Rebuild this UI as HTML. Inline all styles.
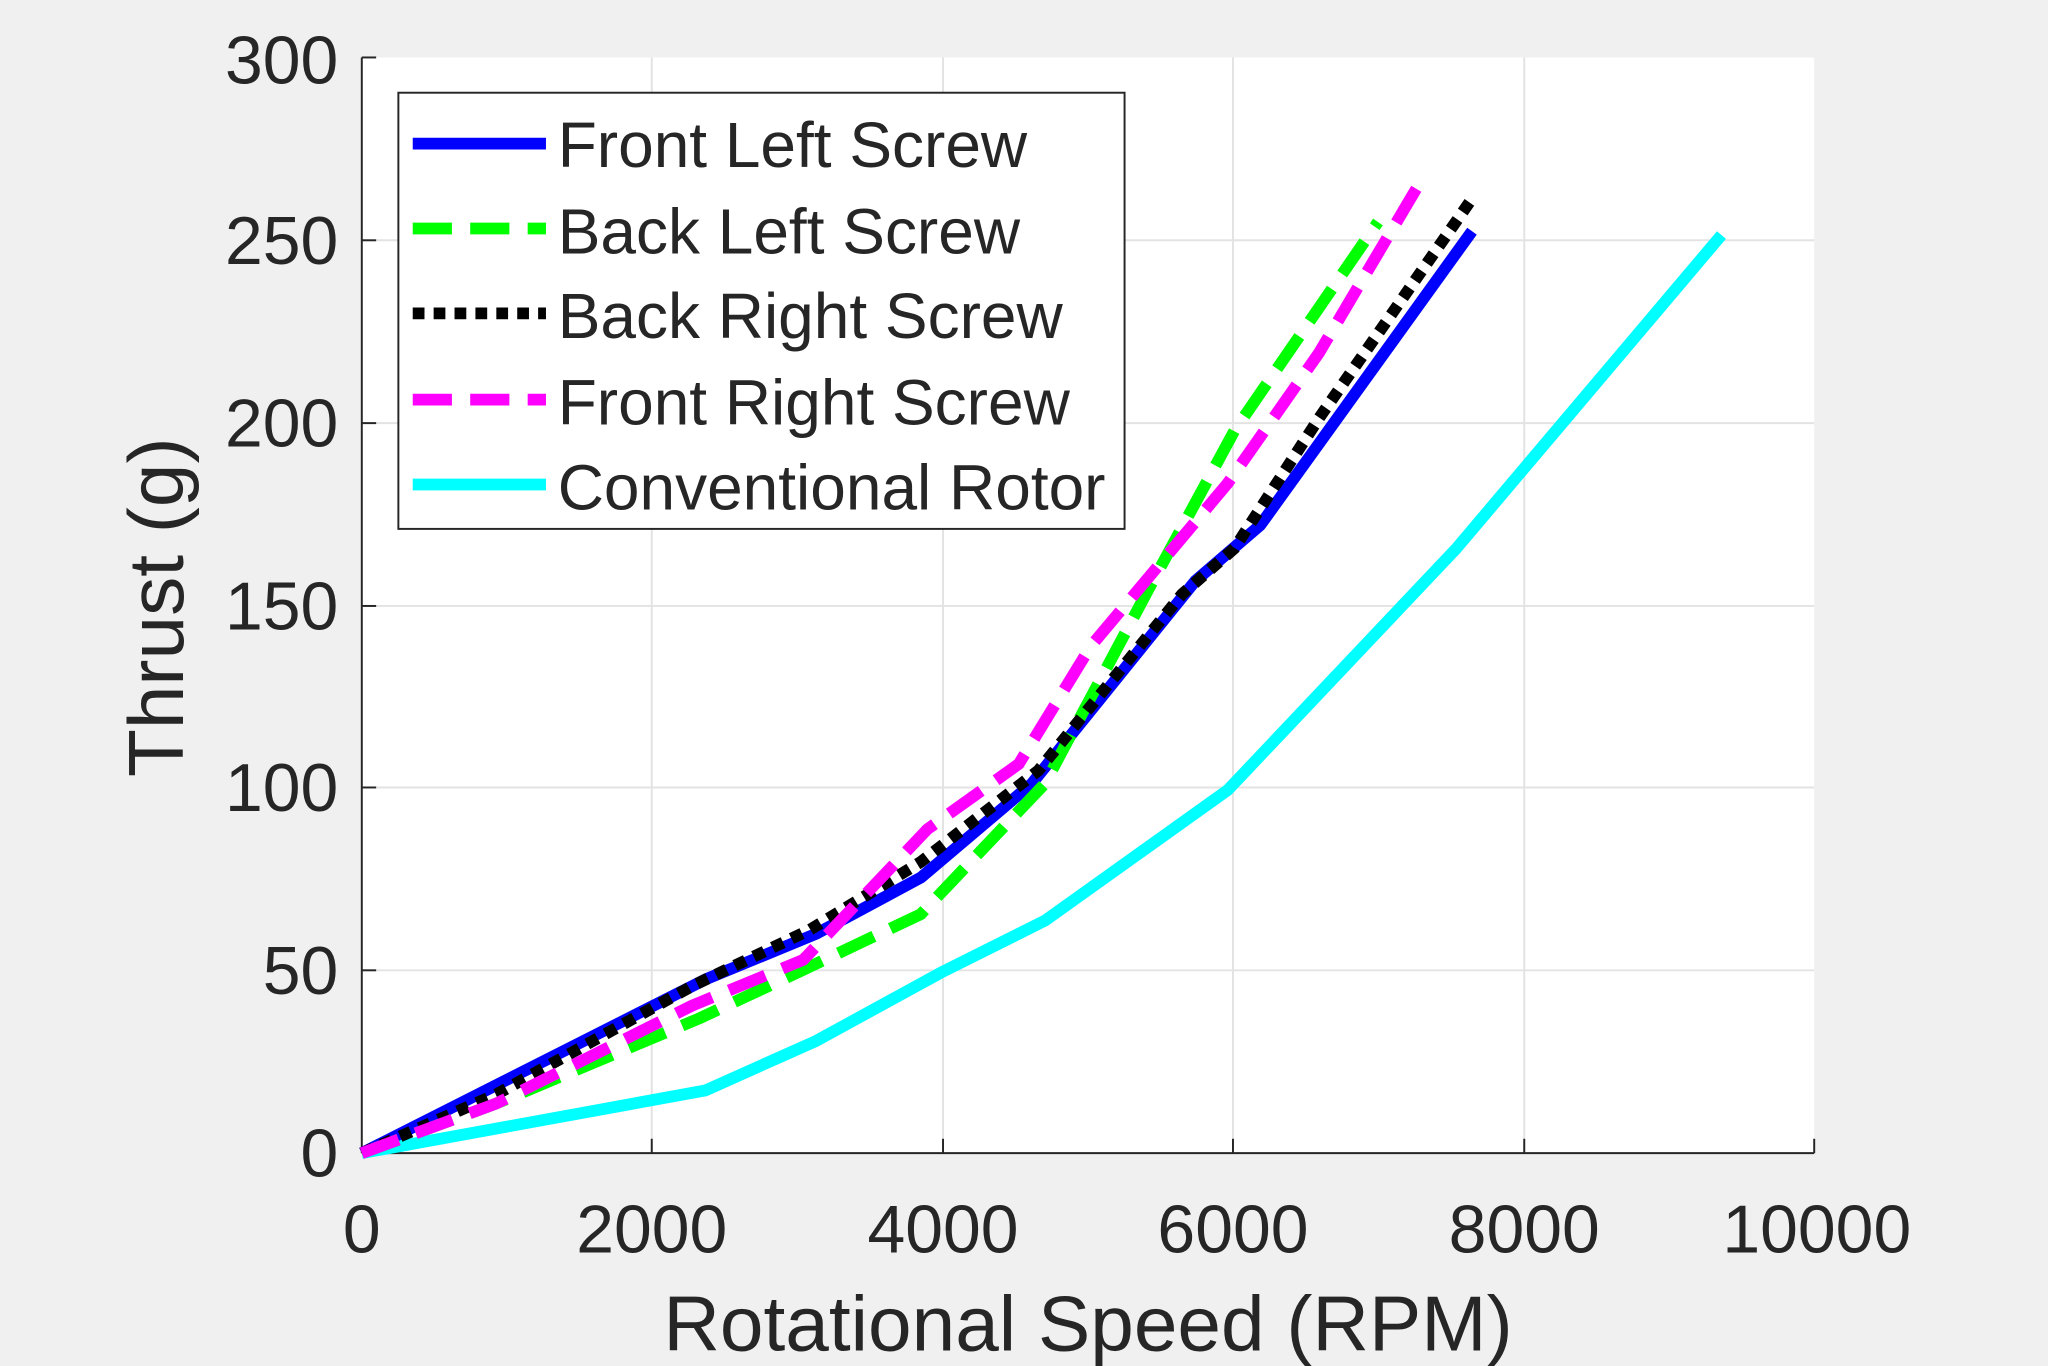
<!DOCTYPE html>
<html><head><style>
html,body{margin:0;padding:0;background:#f0f0f0;}
svg{display:block;}
text{font-family:"Liberation Sans",sans-serif;fill:#262626;}
</style></head><body>
<svg width="2048" height="1366" viewBox="0 0 1568 1046" preserveAspectRatio="none">
<rect width="1568" height="1046" fill="#f0f0f0"/>
<rect x="277" y="44" width="1112" height="839" fill="#fff"/>
<g stroke="#e3e3e3" stroke-width="1.5">
<line x1="499" y1="44" x2="499" y2="883"/><line x1="722" y1="44" x2="722" y2="883"/>
<line x1="944" y1="44" x2="944" y2="883"/><line x1="1167" y1="44" x2="1167" y2="883"/>
<line x1="277" y1="743" x2="1389" y2="743"/><line x1="277" y1="603" x2="1389" y2="603"/>
<line x1="277" y1="464" x2="1389" y2="464"/><line x1="277" y1="324" x2="1389" y2="324"/>
<line x1="277" y1="184" x2="1389" y2="184"/>
</g>
<g stroke="#262626" stroke-width="1.5" fill="none">
<line x1="277" y1="44" x2="277" y2="883"/><line x1="277" y1="883" x2="1389" y2="883"/>
<line x1="499" y1="883" x2="499" y2="872"/><line x1="722" y1="883" x2="722" y2="872"/>
<line x1="944" y1="883" x2="944" y2="872"/><line x1="1167" y1="883" x2="1167" y2="872"/>
<line x1="1389" y1="883" x2="1389" y2="872"/>
<line x1="277" y1="743" x2="288" y2="743"/><line x1="277" y1="603" x2="288" y2="603"/>
<line x1="277" y1="464" x2="288" y2="464"/><line x1="277" y1="324" x2="288" y2="324"/>
<line x1="277" y1="184" x2="288" y2="184"/><line x1="277" y1="44" x2="288" y2="44"/>
</g>
<g font-size="52" text-anchor="end">
<text x="259" y="901">0</text><text x="259" y="761">50</text><text x="259" y="621">100</text>
<text x="259" y="482">150</text><text x="259" y="342">200</text><text x="259" y="202">250</text>
<text x="259" y="64">300</text>
</g>
<g font-size="52" text-anchor="middle">
<text x="277" y="959">0</text><text x="499" y="959">2000</text><text x="722" y="959">4000</text>
<text x="944" y="959">6000</text><text x="1167" y="959">8000</text><text x="1391" y="959">10000</text>
<text x="833" y="1034" font-size="60">Rotational Speed (RPM)</text>
<text transform="translate(140,465) rotate(-90)" font-size="60">Thrust (g)</text>
</g>
<g fill="none" stroke-width="9" stroke-linejoin="round">
<polyline stroke="#00ffff" points="277,883 540,835 625,797 720,745 800,705 940,605 1115,420 1318,180"/>
<polyline stroke="#0000ff" points="277,883 540,750 625,715 705,672 790,600 915,445 965,402 1127,177"/>
<polyline stroke="#00ff00" stroke-dasharray="30,14" points="277,883 380,845 535,780 610,745 705,700 800,600 880,450 945,330 1055,170"/>
<polyline stroke="#000" stroke-dasharray="9,7" points="277,883 380,838 530,755 620,712 705,660 795,590 905,455 945,420 1010,320 1125,155"/>
<polyline stroke="#ff00ff" stroke-dasharray="30,14" points="277,883 380,845 530,770 615,735 710,635 780,585 835,495 940,370 1010,270 1090,135"/>
</g>
<rect x="305" y="71" width="556" height="334" fill="#fff" stroke="#262626" stroke-width="1.5"/>
<g stroke-width="9">
<line x1="316" y1="110" x2="418" y2="110" stroke="#0000ff"/>
<line x1="316" y1="175" x2="418" y2="175" stroke="#00ff00" stroke-dasharray="30,14"/>
<line x1="316" y1="240" x2="418" y2="240" stroke="#000" stroke-dasharray="9,7"/>
<line x1="316" y1="306" x2="418" y2="306" stroke="#ff00ff" stroke-dasharray="30,14"/>
<line x1="316" y1="371" x2="418" y2="371" stroke="#00ffff"/>
</g>
<g font-size="49">
<text x="427" y="128">Front Left Screw</text>
<text x="427" y="194">Back Left Screw</text>
<text x="427" y="259">Back Right Screw</text>
<text x="427" y="325">Front Right Screw</text>
<text x="427" y="390">Conventional Rotor</text>
</g>
</svg>
</body></html>
